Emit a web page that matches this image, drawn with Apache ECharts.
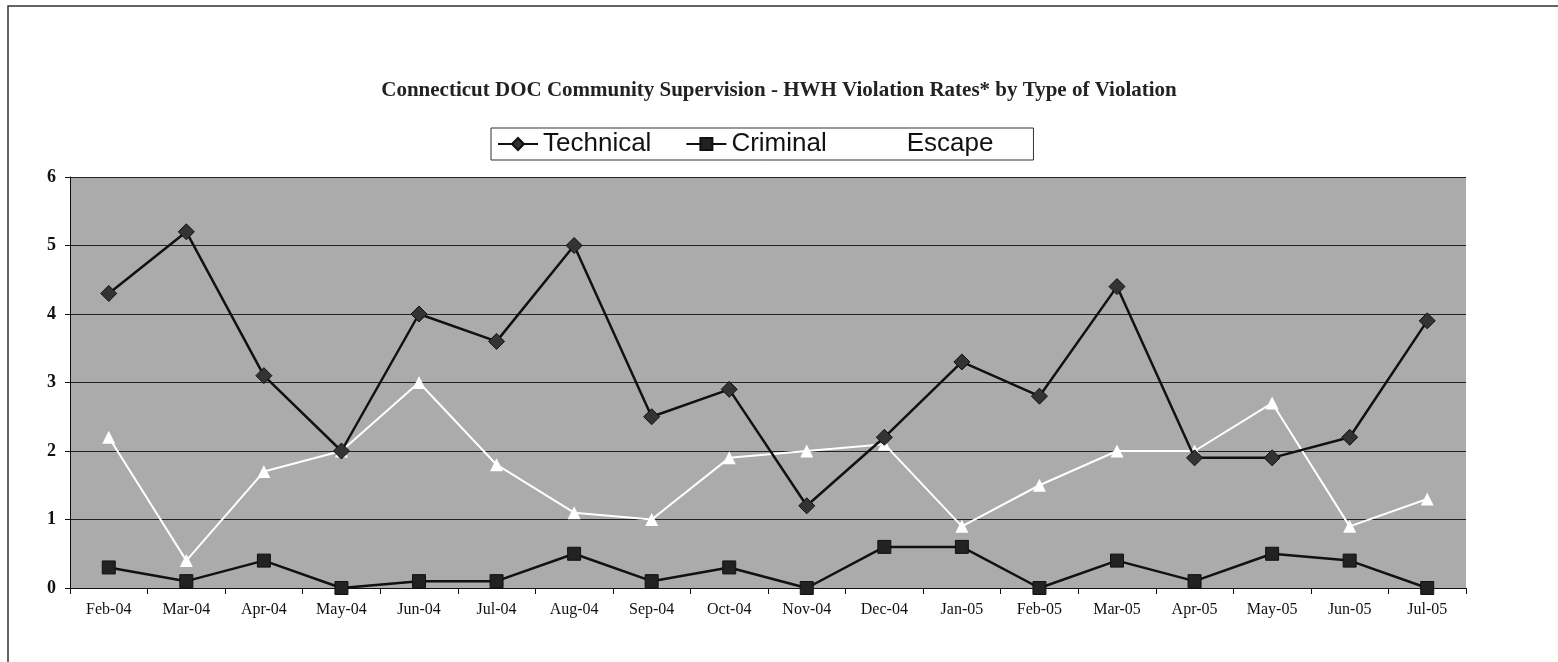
<!DOCTYPE html>
<html><head><meta charset="utf-8">
<script src="https://cdn.jsdelivr.net/npm/echarts@6/dist/echarts.min.js"></script>
<style>html,body{margin:0;padding:0;background:#fff}#c{width:1558px;height:662px}</style>
</head><body><div id="c"></div>
<script>
const categories = ["Feb-04","Mar-04","Apr-04","May-04","Jun-04","Jul-04","Aug-04","Sep-04","Oct-04","Nov-04","Dec-04","Jan-05","Feb-05","Mar-05","Apr-05","May-05","Jun-05","Jul-05"];
const technical = [4.3,5.2,3.1,2.0,4.0,3.6,5.0,2.5,2.9,1.2,2.2,3.3,2.8,4.4,1.9,1.9,2.2,3.9];
const criminal  = [0.3,0.1,0.4,0.0,0.1,0.1,0.5,0.1,0.3,0.0,0.6,0.6,0.0,0.4,0.1,0.5,0.4,0.0];
const escape    = [2.2,0.4,1.7,2.0,3.0,1.8,1.1,1.0,1.9,2.0,2.1,0.9,1.5,2.0,2.0,2.7,0.9,1.3];
const yTicks = [0,1,2,3,4,5,6];

const chart = echarts.init(document.getElementById('c'), null, {renderer:'canvas'});
const serif = '"Liberation Serif","DejaVu Serif",serif';
chart.setOption({
  animation:false,
  backgroundColor:'#fff',
  graphic:[{type:'rect',shape:{x:8,y:6,width:1600,height:700},style:{fill:'none',stroke:'#333',lineWidth:1.5},silent:true}],
  title:{text:'Connecticut DOC Community Supervision - HWH Violation Rates* by Type of Violation',left:'center',top:75,
    textStyle:{fontFamily:serif,fontWeight:'bold',fontSize:21,color:'#222'}},
  legend:{top:128,left:491,itemGap:34,padding:[3,40,3,6],
    borderColor:'#333',borderWidth:1,itemWidth:40,itemHeight:15,
    textStyle:{fontFamily:'"Liberation Sans",Arial,sans-serif',fontSize:26,color:'#111'},
    data:['Technical','Criminal','Escape']},
  grid:{left:70,right:92,top:177,bottom:74},
  xAxis:{type:'category',data:categories,boundaryGap:true,
    axisLine:{lineStyle:{color:'#111',width:1.2}},
    axisTick:{show:true,length:6,lineStyle:{color:'#111'},alignWithLabel:false},
    axisLabel:{fontFamily:serif,fontSize:16,color:'#111',margin:14}},
  yAxis:{type:'value',min:yTicks[0],max:yTicks[yTicks.length-1],interval:1,
    axisLine:{show:true,lineStyle:{color:'#111'}},
    axisTick:{show:true,length:5,lineStyle:{color:'#111'}},
    axisLabel:{fontFamily:serif,fontWeight:'bold',fontSize:18,color:'#111',margin:14},
    splitLine:{show:true,lineStyle:{color:'#222',width:1}},
    splitArea:{show:true,areaStyle:{color:['#ababab','#ababab']}}},
  series:[
    {name:'Technical',type:'line',data:technical,symbol:'diamond',symbolSize:16,
      lineStyle:{color:'#111',width:2.5},itemStyle:{color:'#333',borderColor:'#111',borderWidth:1},z:3},
    {name:'Criminal',type:'line',data:criminal,symbol:'rect',symbolSize:13,
      lineStyle:{color:'#111',width:2.5},itemStyle:{color:'#222',borderColor:'#111',borderWidth:1},z:3},
    {name:'Escape',type:'line',data:escape,symbol:'triangle',symbolSize:13,
      lineStyle:{color:'#fff',width:2},itemStyle:{color:'#fff'},z:2}
  ]
});
</script></body></html>
